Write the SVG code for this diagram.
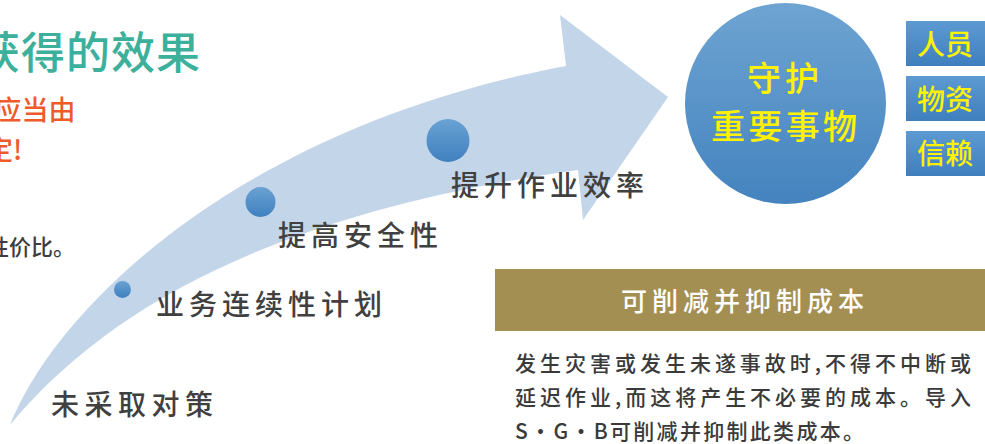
<svg xmlns="http://www.w3.org/2000/svg" width="985" height="444" viewBox="0 0 985 444">
<defs>
<linearGradient id="dotG" x1="0" y1="0" x2="0" y2="1">
<stop offset="0" stop-color="#6aa2d3"/>
<stop offset="1" stop-color="#3f80bf"/>
</linearGradient>
<linearGradient id="circG" x1="0" y1="0" x2="0" y2="1">
<stop offset="0" stop-color="#6ea4d2"/>
<stop offset="1" stop-color="#4483bf"/>
</linearGradient>
<linearGradient id="boxG" x1="0" y1="0" x2="0" y2="1">
<stop offset="0" stop-color="#5d9ad2"/>
<stop offset="1" stop-color="#3f7fbe"/>
</linearGradient>
<style>
text{font-family:"Noto Sans CJK SC","Noto Sans CJK JP",sans-serif;font-weight:500;}
.lbl{font-size:28px;fill:#404040;}
.body{font-size:21px;fill:#3a3a3a;}
.yel{fill:#fff200;}
.dot{fill:url(#dotG);}
.box{fill:url(#boxG);}
</style>
</defs>
<rect width="985" height="444" fill="#ffffff"/>

<g id="intro">
<text x="-24" y="69" font-size="44" letter-spacing="1" fill="#3cb09b">获得的效果</text>
<text x="-5.5" y="120" font-size="27" fill="#ee5a2b">应当由</text>
<text x="-14" y="160" font-size="27" fill="#ee5a2b">定!</text>
<text x="-13" y="255" font-size="22" fill="#3d3d3d">性价比。</text>
</g>

<g id="connectors">
<path d="M10,425 C60,300 250,125 566,66 L560,15 L668,97 L583,220 L578,170 C330,205 130,280 10,425 Z" fill="#c3d5e8"/>
</g>

<g id="step0">
<text class="lbl" x="51" y="415" textLength="162" lengthAdjust="spacing">未采取对策</text>
</g>
<g id="step1">
<circle class="dot" cx="122.5" cy="289.5" r="8.5"/>
<text class="lbl" x="156" y="315" textLength="226" lengthAdjust="spacing">业务连续性计划</text>
</g>
<g id="step2">
<circle class="dot" cx="260.5" cy="202" r="15"/>
<text class="lbl" x="278" y="246" textLength="160" lengthAdjust="spacing">提高安全性</text>
</g>
<g id="step3">
<circle class="dot" cx="448" cy="140.5" r="21.5"/>
<text class="lbl" x="451" y="196" textLength="193" lengthAdjust="spacing">提升作业效率</text>
</g>

<g id="goal">
<circle cx="785.5" cy="103.5" r="100.5" fill="url(#circG)"/>
<text class="yel" x="747" y="91" font-size="34" textLength="72" lengthAdjust="spacing">守护</text>
<text class="yel" x="711" y="139" font-size="34" textLength="146" lengthAdjust="spacing">重要事物</text>
</g>

<g id="people">
<rect class="box" x="906" y="21" width="85" height="45"/>
<text class="yel" x="917" y="55" font-size="28">人员</text>
</g>
<g id="assets">
<rect class="box" x="906" y="76" width="85" height="45"/>
<text class="yel" x="917" y="110" font-size="28">物资</text>
</g>
<g id="trust">
<rect class="box" x="906" y="131" width="85" height="45"/>
<text class="yel" x="917" y="164" font-size="28">信赖</text>
</g>

<g id="cost">
<rect x="495" y="269" width="495" height="62" fill="#a48f53"/>
<text x="621" y="311" font-size="26" fill="#ffffff" textLength="243" lengthAdjust="spacing">可削减并抑制成本</text>
<text class="body" x="515" y="371" textLength="456" lengthAdjust="spacing">发生灾害或发生未遂事故时,不得不中断或</text>
<text class="body" x="515" y="405" textLength="456" lengthAdjust="spacing">延迟作业,而这将产生不必要的成本。导入</text>
<text class="body" x="515" y="439" textLength="349" lengthAdjust="spacing">S·G·B可削减并抑制此类成本。</text>
</g>
</svg>
